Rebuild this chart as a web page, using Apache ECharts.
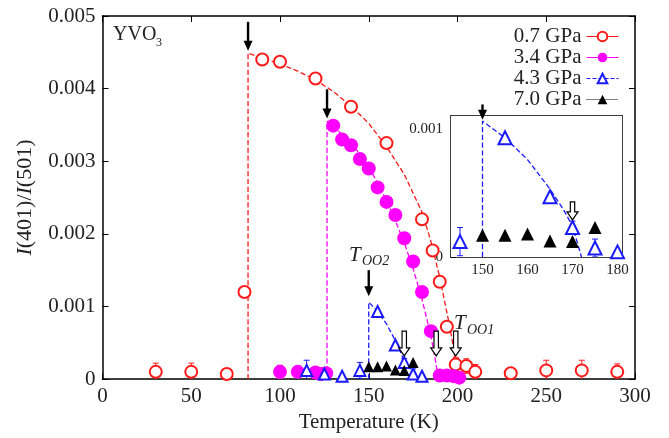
<!doctype html>
<html>
<head>
<meta charset="UTF-8">
<title>YVO3</title>
<script src="https://cdn.jsdelivr.net/npm/echarts@6/dist/echarts.min.js"></script>
<style>
html,body{margin:0;padding:0;background:#fff;}
#chart{width:669px;height:438px;}
</style>
</head>
<body>
<div id="chart"></div>
<script>
// values: [T (K), I(401)/I(501)]
var p07 = [[30,0.0001],[50,0.0001],[70,0.00007],[80,0.0012],[90,0.0044],[100,0.00437],[120,0.00414],[140,0.00375],
  [160,0.00325],[180,0.0022],[186,0.00177],[190,0.00134],[194,0.00072],[199,0.0002],[205,0.00018],[210,0.0001],
  [230,0.00008],[250,0.00012],[270,0.00012],[290,0.0001]];
var p34 = [[100,0.0001],[110,0.0001],[120,0.00009],[123,0.00007],[126,0.00008],[130,0.00349],[135,0.0033],[140,0.00322],
  [145,0.00303],[150,0.0029],[155,0.00264],[160,0.00244],[165,0.00226],[170,0.00194],[175,0.00162],[180,0.0012],
  [185,0.00066],[190,0.00005],[194,0.00005],[198,0.00004],[201,0.00002]];
var p43 = [[115,0.00012],[125,0.00007],[135,0.00004],[145,0.00012],[155,0.00093],[165,0.00047],[170,0.00023],[175,0.00007],[180,0.00004]];
var p70 = [[150,0.00017],[155,0.00017],[160,0.00018],[165,0.000125],[170,0.00012],[175,0.00023]];

// dashed guide curves
var fit07 = [[82,0],[82,0.00449],[90,0.00442],[100,0.00434],[110,0.00424],[120,0.00412],[130,0.00396],[140,0.00376],
  [150,0.00352],[160,0.0032],[170,0.00282],[180,0.0023],[185,0.0019],[190,0.0014],[195,0.0008],[198,0.0004],[200,0]];
var fit34 = [[126.5,0],[126.5,0.00355],[130,0.00347],[135,0.00337],[140,0.00325],[145,0.0031],[150,0.00292],[155,0.0027],
  [160,0.00246],[165,0.00218],[170,0.00188],[175,0.00152],[180,0.0011],[185,0.0006],[188,0.0002],[189,0]];
var fit43 = [[150,0],[150,0.00106],[155,0.00093],[160,0.00076],[165,0.00053],[168,0.00037],[170,0.00024],[172,0]];

// error bars: [T, value, error]
var err07 = [[30,0.0001,0.00012],[50,0.0001,0.00012],[199,0.0002,0.0001],[205,0.00018,0.0001],[210,0.0001,0.0001],
  [250,0.00012,0.00014],[270,0.00012,0.00014],[290,0.0001,0.00011]];
var err34 = [[100,0.0001,0.00009],[110,0.0001,0.00006]];
var err43 = [[115,0.00012,0.00014],[125,0.00007,0.00006],[145,0.00012,0.00011],[170,0.00023,0.00005],[175,0.00007,0.00007]];

// arrows: [T, from, to, hollow]
var arrowsMain = [[82,0.00492,0.00452,0],[126.5,0.00399,0.00359,0],[150,0.0015,0.00114,0],
  [170,0.00066,0.00032,1],[188,0.00066,0.00032,1],[199,0.00066,0.00032,1]];
var arrowsInset = [[150,0.00119,0.00107,0],[170,0.00043,0.00029,1]];

var serif = 'Liberation Serif';
var RED = '#ff1a1a', MAG = '#ff00ff', BLUE = '#1a1aff';

function errRender(color) {
  return function (params, api) {
    var x = api.value(0), y = api.value(1), e = api.value(2);
    var hi = api.coord([x, y + e]), lo = api.coord([x, y - e]);
    var st = {stroke: color, lineWidth: 1};
    return {type: 'group', children: [
      {type: 'line', shape: {x1: hi[0], y1: hi[1], x2: lo[0], y2: lo[1]}, style: st},
      {type: 'line', shape: {x1: hi[0] - 3, y1: hi[1], x2: hi[0] + 3, y2: hi[1]}, style: st},
      {type: 'line', shape: {x1: lo[0] - 3, y1: lo[1], x2: lo[0] + 3, y2: lo[1]}, style: st}
    ]};
  };
}

function arrowRender(params, api) {
  var x = api.value(0);
  var a = api.coord([x, api.value(1)]), b = api.coord([x, api.value(2)]);
  var cx = a[0], t = a[1], p = b[1];
  if (!api.value(3)) {
    return {type: 'group', children: [
      {type: 'rect', shape: {x: cx - 1.2, y: t, width: 2.4, height: p - t - 8}, style: {fill: '#000'}},
      {type: 'polygon', shape: {points: [[cx - 4.5, p - 10], [cx + 4.5, p - 10], [cx, p]]}, style: {fill: '#000'}}
    ]};
  }
  return {type: 'polygon', shape: {points: [[cx - 2.2, t], [cx + 2.2, t], [cx + 2.2, p - 8], [cx + 5.5, p - 8],
    [cx, p], [cx - 5.5, p - 8], [cx - 2.2, p - 8]]}, style: {fill: '#fff', stroke: '#000', lineWidth: 1.2}};
}

function pts(name, data, symbol, size, color, xi) {
  return {
    name: name, type: 'line', data: data, xAxisIndex: xi, yAxisIndex: xi,
    symbol: symbol, symbolSize: size, showAllSymbol: true,
    lineStyle: {opacity: 0}, itemStyle: {color: color, borderWidth: 1.2}, z: 4
  };
}
function fit(data, color, type, xi) {
  return {
    type: 'line', data: data, xAxisIndex: xi, yAxisIndex: xi, symbol: 'none', silent: true,
    lineStyle: {color: color, width: 1.3, type: type}, z: 2
  };
}
function errs(data, color, xi) {
  return {type: 'custom', data: data, xAxisIndex: xi, yAxisIndex: xi, renderItem: errRender(color), clip: true, z: 3, silent: true};
}
function arrows(data, xi) {
  return {type: 'custom', data: data, xAxisIndex: xi, yAxisIndex: xi, renderItem: arrowRender, clip: false, z: 6, silent: true};
}

var labelFont = {fontFamily: serif, fontSize: 21, color: '#222'};
var insetFont = {fontFamily: serif, fontSize: 15, color: '#222'};
var axLine = {show: true, onZero: false, lineStyle: {color: '#000', width: 1.5}};
var tickIn = function (len) { return {inside: true, length: len, lineStyle: {color: '#000'}}; };

var chart = echarts.init(document.getElementById('chart'));
chart.setOption({
  animation: false,
  backgroundColor: '#fff',
  grid: [
    {left: 102.5, right: 34, top: 16, bottom: 57},
    {left: 451, right: 47, top: 116, bottom: 181, show: true, backgroundColor: '#fff', borderWidth: 0, z: 1}
  ],
  legend: {
    orient: 'vertical', right: 45, top: 21, align: 'right', itemWidth: 32, itemHeight: 12, itemGap: 0,
    textStyle: labelFont, selectedMode: false,
    data: [
      {name: '0.7 GPa', lineStyle: {color: RED, width: 1, type: 'solid', opacity: 1}},
      {name: '3.4 GPa', lineStyle: {color: MAG, width: 1, type: 'solid', opacity: 1}},
      {name: '4.3 GPa', lineStyle: {color: BLUE, width: 1, type: 'dashed', opacity: 1}},
      {name: '7.0 GPa', lineStyle: {color: '#000', width: 1, type: 'dotted', opacity: 1}}
    ]
  },
  xAxis: [
    {type: 'value', gridIndex: 0, min: 0, max: 300, interval: 50, axisLine: axLine,
      axisTick: tickIn(6), splitLine: {show: false},
      axisLabel: Object.assign({margin: 7}, labelFont),
      name: 'Temperature (K)', nameLocation: 'middle', nameGap: 29, nameTextStyle: labelFont},
    {type: 'value', gridIndex: 0, position: 'top', min: 0, max: 300, interval: 50, axisLine: axLine,
      axisTick: tickIn(6), splitLine: {show: false}, axisLabel: {show: false}},
    {type: 'value', gridIndex: 1, min: 143, max: 181, axisLine: axLine, splitLine: {show: false},
      axisTick: Object.assign(tickIn(5), {customValues: [150, 160, 170, 180]}),
      axisLabel: Object.assign({margin: 6, customValues: [150, 160, 170, 180]}, insetFont)},
    {type: 'value', gridIndex: 1, position: 'top', min: 143, max: 181, axisLine: axLine, splitLine: {show: false},
      axisTick: Object.assign(tickIn(5), {customValues: [150, 160, 170, 180]}), axisLabel: {show: false}}
  ],
  yAxis: [
    {type: 'value', gridIndex: 0, min: 0, max: 0.005, interval: 0.001, axisLine: axLine, splitLine: {show: false},
      axisTick: tickIn(6),
      axisLabel: Object.assign({margin: 7, formatter: function (v) { return v === 0 ? '0' : v.toFixed(3); }}, labelFont),
      name: '{i|I}(401)/{i|I}(501)', nameLocation: 'middle', nameGap: 66, nameRotate: 90,
      nameTextStyle: {fontFamily: serif, fontSize: 22, color: '#222',
        rich: {i: {fontFamily: serif, fontSize: 22, fontStyle: 'italic', color: '#222'}}}},
    {type: 'value', gridIndex: 0, position: 'right', min: 0, max: 0.005, interval: 0.001, axisLine: axLine,
      splitLine: {show: false}, axisTick: tickIn(6), axisLabel: {show: false}},
    {type: 'value', gridIndex: 1, min: 0, max: 0.0011, interval: 0.0002, axisLine: axLine, splitLine: {show: false},
      axisTick: tickIn(5),
      axisLabel: Object.assign({margin: 8, showMaxLabel: false, formatter: function (v) {
        if (v === 0) return '0';
        return Math.abs(v - 0.001) < 1e-9 ? '0.001' : '';
      }}, insetFont)},
    {type: 'value', gridIndex: 1, position: 'right', min: 0, max: 0.0011, interval: 0.0002, axisLine: axLine,
      splitLine: {show: false}, axisTick: tickIn(5), axisLabel: {show: false}}
  ],
  graphic: [
    {type: 'text', z: 100, style: {x: 113, y: 35, text: 'YVO', font: '20px "Liberation Serif"', fill: '#222', verticalAlign: 'middle'}},
    {type: 'text', z: 100, style: {x: 156, y: 43, text: '3', font: '12px "Liberation Serif"', fill: '#222', verticalAlign: 'middle'}},
    {type: 'text', z: 100, style: {x: 349, y: 255, text: 'T', font: 'italic 21px "Liberation Serif"', fill: '#222', verticalAlign: 'middle'}},
    {type: 'text', z: 100, style: {x: 362, y: 261, text: 'OO2', font: 'italic 14px "Liberation Serif"', fill: '#222', verticalAlign: 'middle'}},
    {type: 'text', z: 100, style: {x: 454, y: 323, text: 'T', font: 'italic 21px "Liberation Serif"', fill: '#222', verticalAlign: 'middle'}},
    {type: 'text', z: 100, style: {x: 467, y: 330, text: 'OO1', font: 'italic 14px "Liberation Serif"', fill: '#222', verticalAlign: 'middle'}}
  ],
  series: [
    fit(fit07, RED, 'dashed', 0),
    fit(fit34, MAG, 'dashed', 0),
    fit(fit43, BLUE, 'dashed', 0),
    errs(err07, RED, 0),
    errs(err34, MAG, 0),
    errs(err43, BLUE, 0),
    pts('0.7 GPa', p07, 'emptyCircle', 12, RED, 0),
    pts('3.4 GPa', p34, 'circle', 14, MAG, 0),
    pts('4.3 GPa', p43, 'emptyTriangle', 11, BLUE, 0),
    pts('7.0 GPa', p70, 'triangle', 11, '#000', 0),
    arrows(arrowsMain, 0),
    // inset
    fit(fit43, BLUE, 'dashed', 2),
    errs(err43, BLUE, 2),
    pts('inset 4.3', p43, 'emptyTriangle', 13, BLUE, 2),
    pts('inset 7.0', p70, 'triangle', 13, '#000', 2),
    arrows(arrowsInset, 2)
  ]
});
</script>
</body>
</html>
